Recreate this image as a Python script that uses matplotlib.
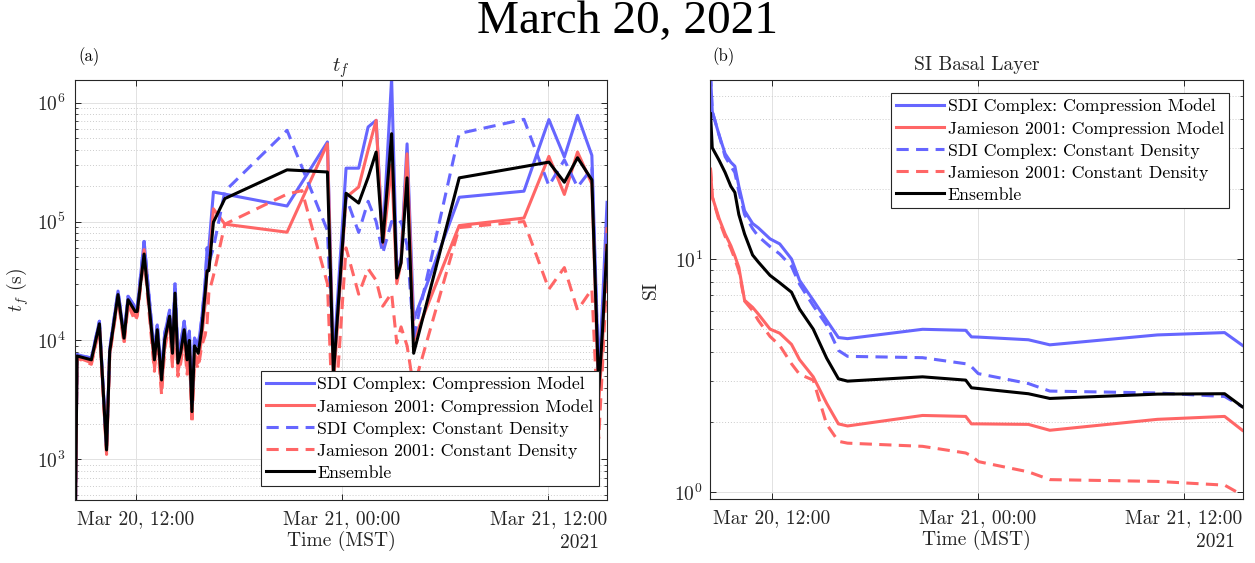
import matplotlib
matplotlib.use("Agg")
import matplotlib.pyplot as plt
import matplotlib.dates as mdates
from matplotlib.ticker import LogLocator, NullFormatter
import pandas as pd

plt.rcParams["font.family"] = ["cmr10", "DejaVu Serif"]
plt.rcParams["mathtext.fontset"] = "cm"
plt.rcParams["axes.formatter.use_mathtext"] = True

# ---- panel (a): time to failure t_f (s) ----
tf_times = [
    "03-20 08:29", "03-20 08:35", "03-20 09:25", "03-20 09:53", "03-20 10:18",
    "03-20 10:29", "03-20 10:58", "03-20 11:19", "03-20 11:33", "03-20 11:58",
    "03-20 12:05", "03-20 12:29", "03-20 13:05", "03-20 13:15", "03-20 13:30",
    "03-20 13:41", "03-20 13:58", "03-20 14:08", "03-20 14:17", "03-20 14:27",
    "03-20 14:37", "03-20 14:49", "03-20 14:59", "03-20 15:07", "03-20 15:16",
    "03-20 15:25", "03-20 15:38", "03-20 15:50", "03-20 16:02", "03-20 16:09",
    "03-20 16:15", "03-20 16:31", "03-20 17:11", "03-20 20:48", "03-20 21:40",
    "03-20 23:09", "03-20 23:30", "03-21 00:14", "03-21 00:58", "03-21 01:31",
    "03-21 01:59", "03-21 02:22", "03-21 02:53", "03-21 03:11", "03-21 03:26",
    "03-21 03:47", "03-21 04:10", "03-21 06:49", "03-21 10:35", "03-21 12:02",
    "03-21 12:56", "03-21 13:42", "03-21 14:32", "03-21 14:56", "03-21 15:09",
    "03-21 15:25",
]
tf_sdi_comp = [
    300, 7600, 7100, 14500, 1250, 8500, 26000, 11000, 23500, 19000,
    18500, 68000, 7500, 13500, 5200, 11500, 17500, 9000, 30000, 7400,
    9500, 14500, 8000, 12000, 3000, 10500, 9000, 15000, 30000, 60000,
    60000, 177000, 170000, 135000, 213000, 467000, 6500, 281000, 281000, 624000,
    710000, 69000, 1600000, 38600, 50000, 450000, 14900, 160000, 180000, 720000,
    349000, 782000, 360000, 5000, 20000, 145000,
]
tf_jam_comp = [
    300, 7200, 6500, 13000, 1150, 7700, 23000, 9800, 20500, 16000,
    16500, 58000, 6000, 11500, 3900, 9200, 15000, 6500, 22000, 5500,
    7000, 11000, 5800, 9000, 2200, 7800, 6500, 10500, 20000, 40000,
    40000, 128000, 95000, 81300, 153000, 451000, 4200, 160000, 195000, 400000,
    710000, 60000, 300000, 30000, 45000, 371000, 10000, 92500, 107000, 353000,
    169000, 384000, 207000, 3000, 9000, 87000,
]
tf_sdi_const = [
    300, 7600, 7100, 14500, 1250, 8500, 26000, 11000, 23500, 19000,
    18500, 68000, 7600, 14000, 5300, 11500, 18000, 9000, 31000, 7500,
    9500, 14500, 8200, 12000, 3000, 10500, 9000, 15000, 30000, 60000,
    45000, 60000, 180000, 585000, 287000, 84000, 5800, 160000, 81000, 148000,
    100000, 54000, 100000, 95000, 100000, 63000, 10700, 550000, 724000, 200000,
    330000, 195000, 280000, 4500, 15000, 80000,
]
tf_jam_const = [
    300, 7100, 6300, 12800, 1100, 7500, 22500, 9300, 20000, 14500,
    16000, 50000, 5500, 10500, 3500, 8500, 14000, 6000, 20000, 5000,
    6500, 10000, 5200, 8000, 2000, 7000, 5800, 9000, 11000, 14000,
    25000, 35000, 95000, 170000, 182000, 30000, 1500, 60000, 24500, 40000,
    32000, 19400, 25000, 9500, 13000, 9000, 4000, 89000, 100000, 27000,
    41000, 18000, 27000, 1500, 6000, 40000,
]
tf_ensemble = [
    300, 7400, 6870, 13800, 1200, 8080, 24300, 10460, 22000, 17500,
    17500, 53300, 6870, 12300, 4650, 10100, 16000, 7800, 25000, 6450,
    8000, 12300, 6870, 10000, 2520, 9000, 7800, 12300, 25000, 38600,
    38600, 98700, 156000, 272000, 268000, 261000, 5200, 173000, 143000, 235000,
    384000, 67000, 548000, 33500, 45000, 233000, 7800, 233000, 290000, 316000,
    214000, 344000, 224000, 3840, 12000, 63000,
]

# ---- panel (b): SI basal layer ----
si_times = [
    "03-20 08:25", "03-20 08:31", "03-20 08:55", "03-20 09:16", "03-20 09:36",
    "03-20 09:50", "03-20 10:04", "03-20 10:24", "03-20 10:52", "03-20 11:12",
    "03-20 11:53", "03-20 12:27", "03-20 13:08", "03-20 13:36", "03-20 14:24",
    "03-20 15:11", "03-20 15:52", "03-20 16:24", "03-20 20:46", "03-20 23:17",
    "03-20 23:37", "03-21 00:01", "03-21 02:56", "03-21 04:11", "03-21 10:27",
    "03-21 14:22", "03-21 15:24",
]
si_sdi_comp = [
    62, 43, 34, 28.3, 26, 25, 20.5, 16.1, 14.2, 13.6,
    12.2, 11.6, 10, 8.1, 6.65, 5.45, 4.6, 4.55, 4.99, 4.94,
    4.63, 4.62, 4.5, 4.28, 4.72, 4.83, 4.26,
]
si_jam_comp = [
    24.3, 18.5, 14.9, 12.8, 11.4, 10.3, 9.2, 6.65, 6.2, 5.8,
    5.0, 4.8, 4.3, 3.7, 3.12, 2.4, 1.96, 1.92, 2.13, 2.11,
    1.96, 1.96, 1.95, 1.84, 2.05, 2.11, 1.84,
]
si_sdi_const = [
    62, 43, 34, 27.5, 25, 23.5, 19.5, 15.5, 13.5, 12.5,
    11.3, 10.5, 9.3, 7.8, 6.3, 5.2, 4.05, 3.82, 3.77, 3.55,
    3.45, 3.22, 2.92, 2.71, 2.66, 2.57, 2.32,
]
si_jam_const = [
    24.3, 18.5, 14.6, 12.5, 11.1, 10.0, 8.9, 6.6, 6.0, 5.45,
    4.65, 4.25, 3.55, 3.2, 3.02, 1.95, 1.65, 1.62, 1.57, 1.47,
    1.43, 1.35, 1.22, 1.13, 1.11, 1.07, 0.97,
]
si_ensemble = [
    42, 30, 26.5, 23.5, 20.5, 19.3, 15.5, 12.8, 10.4, 9.7,
    8.5, 7.9, 7.2, 6.1, 5.0, 3.75, 3.06, 2.99, 3.12, 3.02,
    2.80, 2.78, 2.64, 2.52, 2.63, 2.64, 2.32,
]

labels = [
    "SDI Complex: Compression Model",
    "Jamieson 2001: Compression Model",
    "SDI Complex: Constant Density",
    "Jamieson 2001: Constant Density",
    "Ensemble",
]
tick_times = ["2021-03-20 12:00", "2021-03-21 00:00", "2021-03-21 12:00"]

BLUE = "#6666ff"
RED = "#ff6666"
DASH = (0, (4, 2.4))
styles = [
    dict(color=BLUE, ls="-"),
    dict(color=RED, ls="-"),
    dict(color=BLUE, ls=DASH),
    dict(color=RED, ls=DASH),
    dict(color="black", ls="-"),
]


def to_dt(times):
    return pd.to_datetime(["2021-" + t for t in times])


def style_axes(ax, xlim, ylim):
    ax.set_yscale("log")
    ax.set_xlim(pd.Timestamp(xlim[0]), pd.Timestamp(xlim[1]))
    ax.set_ylim(*ylim)
    ax.set_xticks(pd.to_datetime(tick_times))
    ax.xaxis.set_major_formatter(mdates.DateFormatter("%b %d, %H:%M"))
    ax.yaxis.set_minor_locator(LogLocator(base=10, subs=range(2, 10), numticks=20))
    ax.yaxis.set_minor_formatter(NullFormatter())
    ax.grid(True, which="major", color="#e2e2e2", lw=0.7, ls="-")
    ax.grid(True, which="minor", axis="y", color="#cccccc", lw=0.7, ls=(0, (1, 2)))
    ax.set_axisbelow(True)
    ax.tick_params(which="both", direction="in", top=True, right=True,
                   colors="#262626", labelcolor="#262626", labelsize=14)
    ax.tick_params(which="major", length=4.5, width=0.7)
    ax.tick_params(which="minor", length=2.5, width=0.6)
    ax.tick_params(axis="x", pad=7)
    for sp in ax.spines.values():
        sp.set_color("#262626")
        sp.set_linewidth(0.8)
    ax.set_xlabel("Time (MST)", fontsize=14, color="#262626", labelpad=2)
    ax.text(0.985, -0.102, "2021", transform=ax.transAxes, ha="right",
            va="center", fontsize=14, color="#262626")


fig = plt.figure(figsize=(12.55, 5.63), dpi=100)
ax1 = fig.add_axes([0.0598, 0.1119, 0.4239, 0.746])
ax2 = fig.add_axes([0.5657, 0.1131, 0.4249, 0.7448])

t1 = to_dt(tf_times)
for vals, st, lab in zip([tf_sdi_comp, tf_jam_comp, tf_sdi_const, tf_jam_const, tf_ensemble],
                         styles, labels):
    ax1.plot(t1, vals, lw=2.2, label=lab, **st)

t2 = to_dt(si_times)
for vals, st, lab in zip([si_sdi_comp, si_jam_comp, si_sdi_const, si_jam_const, si_ensemble],
                         styles, labels):
    ax2.plot(t2, vals, lw=2.2, label=lab, **st)

style_axes(ax1, ("2021-03-20 08:28", "2021-03-21 15:25"), (455, 1.55e6))
style_axes(ax2, ("2021-03-20 08:23", "2021-03-21 15:27"), (0.93, 58.6))

ax1.tick_params(axis="y", pad=7)
ax2.tick_params(axis="y", pad=5)

ax1.set_title("$t_f$", fontsize=15, pad=6, color="#262626")
ax2.set_title("SI Basal Layer", fontsize=14, pad=7, color="#262626")
ax1.set_ylabel("$t_f$ (s)", fontsize=14, color="#262626")
ax1.yaxis.set_label_coords(-0.082, 0.5)
ax2.set_ylabel("SI", fontsize=14, color="#262626")
ax2.yaxis.set_label_coords(-0.094, 0.5)

ax1.text(0.006, 1.055, "(a)", transform=ax1.transAxes, fontsize=12, va="center")
ax2.text(0.004, 1.055, "(b)", transform=ax2.transAxes, fontsize=12, va="center")

leg_kw = dict(fontsize=12.8, handlelength=2.7, handletextpad=0.2, labelspacing=0.37,
              borderpad=0.3, borderaxespad=0, fancybox=False, framealpha=1)
leg1 = ax1.legend(loc="lower right", bbox_to_anchor=(1 - 8 / 532, 14 / 420), **leg_kw)
leg2 = ax2.legend(loc="upper right", bbox_to_anchor=(1 - 14 / 533, 1 - 13 / 419), **leg_kw)
for leg in (leg1, leg2):
    leg.get_frame().set_edgecolor("#262626")
    leg.get_frame().set_linewidth(0.8)

fig.text(0.5, 0.961, "March 20, 2021", family=["Liberation Serif", "DejaVu Serif"],
         fontsize=34, ha="center", va="center")

fig.savefig("out.png", dpi=100)
